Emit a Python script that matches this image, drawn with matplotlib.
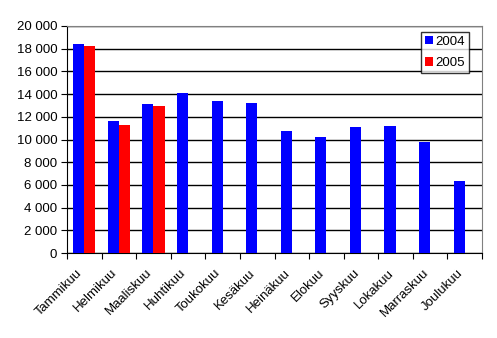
import matplotlib
matplotlib.use("Agg")
import matplotlib.pyplot as plt
import matplotlib.transforms as mtransforms
import numpy as np
from matplotlib.ticker import FuncFormatter

plt.rcParams['font.family'] = ['Liberation Sans', 'DejaVu Sans']

months = ["Tammikuu", "Helmikuu", "Maaliskuu", "Huhtikuu", "Toukokuu", "Kesäkuu",
          "Heinäkuu", "Elokuu", "Syyskuu", "Lokakuu", "Marraskuu", "Joulukuu"]
v2004 = [18450, 11650, 13130, 14100, 13420, 13220, 10750, 10220, 11100, 11190, 9780, 6340]
v2005 = [18250, 11280, 12950]
yticks = list(range(0, 20001, 2000))

fs = 9.5
fig = plt.figure(figsize=(4.97, 3.38), dpi=100)
ax = fig.add_axes([67/497, 1-253/338, (482-67)/497, (253-26)/338])

x = np.arange(len(months))
w = 0.32
ax.bar(x - w/2, v2004, width=w, color='#0000FF', label='2004', zorder=3)
ax.bar(np.arange(len(v2005)) + w/2, v2005, width=w, color='#FF0000', label='2005', zorder=3)

ax.set_xlim(-0.5, len(months) - 0.5)
ax.set_ylim(0, 20000)
ax.set_yticks(yticks)
ax.yaxis.set_major_formatter(FuncFormatter(lambda v, p: f"{int(v):,}".replace(",", " ")))
ax.yaxis.grid(True, color='black', linewidth=1, zorder=0)
ax.set_axisbelow(True)

ax.set_xticks(np.arange(len(months) + 1) - 0.5, minor=False)
ax.set_xticklabels([])
ax.set_xticks(x, minor=True)
ax.set_xticklabels(months, minor=True, rotation=45, ha='right', va='top',
                   rotation_mode='anchor', fontsize=fs)
ax.tick_params(axis='x', which='minor', length=0, pad=10)
ax.tick_params(axis='x', which='major', length=4, direction='out', color='black')
ax.tick_params(axis='y', length=4, direction='out', labelsize=fs, color='black', pad=3)

offset = mtransforms.ScaledTranslation(-8/100, 0, fig.dpi_scale_trans)
for lab in ax.get_xticklabels(minor=True):
    lab.set_transform(lab.get_transform() + offset)

for s in ['top', 'right']:
    ax.spines[s].set_color('#808080')
for s in ['left', 'bottom']:
    ax.spines[s].set_color('black')

leg = ax.legend(loc='upper right', bbox_to_anchor=(469/497, 1-32/338), bbox_transform=fig.transFigure,
                frameon=True, fancybox=False, fontsize=fs, handlelength=0.6, handleheight=0.6,
                handletextpad=0.2, borderpad=0.3, labelspacing=0.7, borderaxespad=0)
leg.get_frame().set_edgecolor('black')
leg.get_frame().set_linewidth(1)

fig.savefig("out.png", dpi=100)
